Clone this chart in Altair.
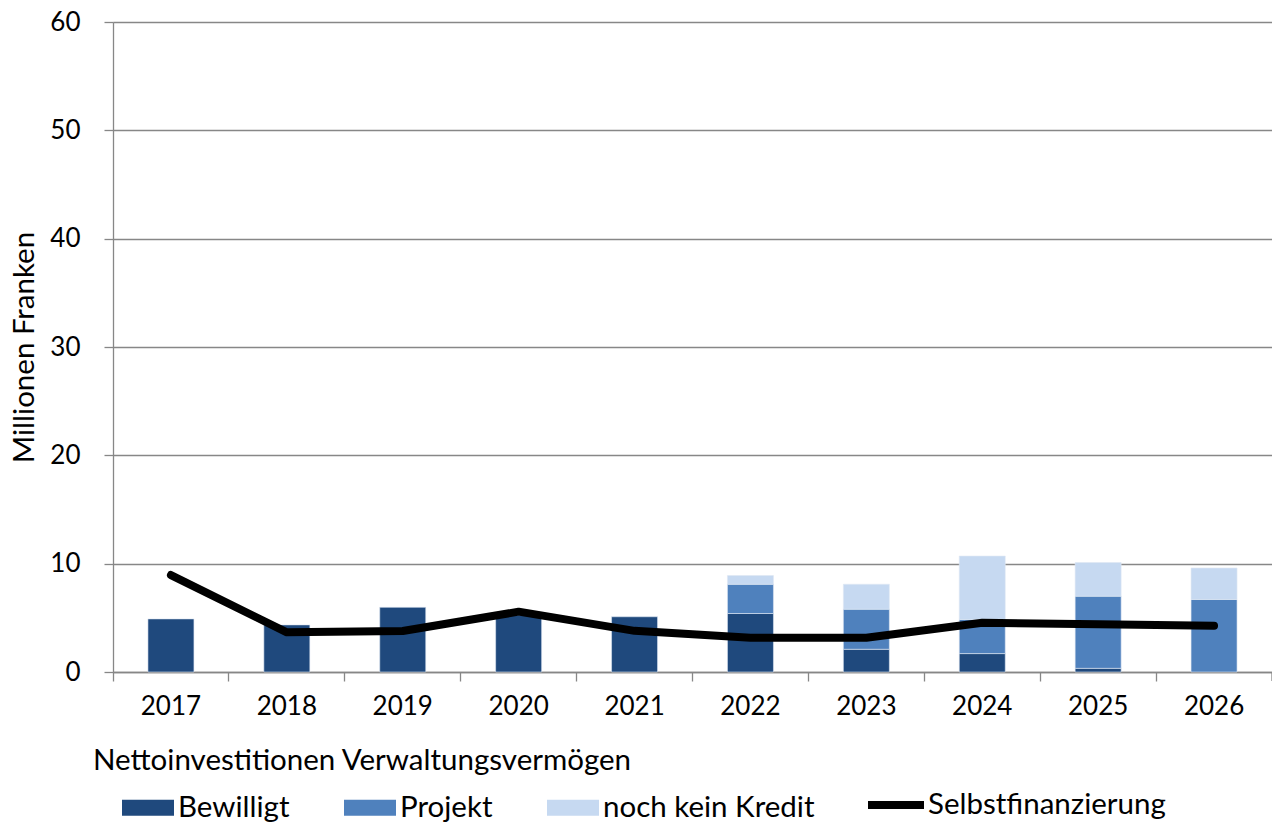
import altair as alt
import pandas as pd

years = ["2017", "2018", "2019", "2020", "2021", "2022", "2023", "2024", "2025", "2026"]
bewilligt = [4.9, 4.35, 5.97, 5.26, 5.1, 5.4, 2.1, 1.7, 0.34, 0.0]
projekt = [0, 0, 0, 0, 0, 2.7, 3.7, 3.15, 6.66, 6.7]
kein_kredit = [0, 0, 0, 0, 0, 0.8, 2.3, 5.85, 3.1, 2.9]
selbst = [8.95, 3.66, 3.78, 5.57, 3.8, 3.17, 3.17, 4.55, 4.4, 4.27]

series_names = ["Bewilligt", "Projekt", "noch kein Kredit"]
series_colors = ["#1F497D", "#4F81BD", "#C6D9F1"]
line_name = "Selbstfinanzierung"

rows = []
for i, y in enumerate(years):
    for k, (name, vals) in enumerate(zip(series_names, [bewilligt, projekt, kein_kredit])):
        rows.append({"Jahr": y, "Serie": name, "Wert": vals[i], "ord": k})
bars_df = pd.DataFrame(rows)
line_df = pd.DataFrame({"Jahr": years, "Wert": selbst, "Serie": [line_name] * len(years)})

FONT = "Lato"
TXT = 29.5
W, H = 1159, 650
GRID = "#878787"

x_enc = alt.X(
    "Jahr:N",
    sort=years,
    title=None,
    scale=alt.Scale(paddingInner=0, paddingOuter=0),
    axis=alt.Axis(
        labelAngle=0,
        bandPosition=0,
        grid=False,
        ticks=True,
        tickSize=9,
        tickColor=GRID,
        domainColor=GRID,
        domainWidth=1.3,
        tickWidth=1.3,
        labelFontSize=26,
        labelFont=FONT,
        labelColor="black",
        labelPadding=12,
    ),
)

y_scale = alt.Scale(domain=[0, 60], nice=False)
y_axis = alt.Axis(
    values=[0, 10, 20, 30, 40, 50, 60],
    title="Millionen Franken",
    titleFont=FONT,
    titleFontSize=TXT,
    titleFontWeight="normal",
    titleColor="black",
    titlePadding=10,
    labelFont=FONT,
    labelFontSize=26,
    labelColor="black",
    labelPadding=24,
    tickSize=9,
    tickColor=GRID,
    tickWidth=1.3,
    domainColor=GRID,
    domainWidth=1.3,
    grid=True,
    gridColor=GRID,
    gridWidth=1.3,
)

bars = alt.Chart(bars_df).transform_filter("datum.Wert > 0").mark_bar(
    size=46, stroke="#dfe8f3", strokeWidth=0.6
).encode(
    x=x_enc,
    y=alt.Y("sum(Wert):Q", stack="zero", scale=y_scale, axis=y_axis),
    fill=alt.Fill(
        "Serie:N",
        scale=alt.Scale(domain=series_names, range=series_colors),
        legend=alt.Legend(
            title="Nettoinvestitionen Verwaltungsvermögen",
            titleFont=FONT,
            titleFontSize=TXT,
            titleFontWeight="normal",
            titleColor="black",
            titlePadding=5,
            titleLimit=900,
            orient="none",
            legendX=-20,
            legendY=725,
            direction="horizontal",
            columnPadding=25,
            labelFont=FONT,
            labelFontSize=TXT,
            labelColor="black",
            symbolOffset=29,
            labelOffset=4,
            labelLimit=400,
            symbolType="M-1,-0.31H1V0.31H-1Z",
            symbolSize=2704,
            symbolStrokeWidth=0,
            symbolOpacity=1,
            padding=0,
        ),
    ),
    order=alt.Order("ord:Q", sort="ascending"),
)

line = alt.Chart(line_df).mark_line(
    strokeWidth=8, strokeCap="round", strokeJoin="round"
).encode(
    x=alt.X("Jahr:N", sort=years),
    y=alt.Y("Wert:Q", scale=y_scale),
    stroke=alt.Stroke(
        "Serie:N",
        scale=alt.Scale(domain=[line_name], range=["black"]),
        legend=alt.Legend(
            title=None,
            orient="none",
            legendX=751,
            legendY=751,
            labelFont=FONT,
            labelFontSize=TXT,
            labelColor="black",
            labelOffset=0,
            labelLimit=400,
            symbolType="stroke",
            symbolSize=3136,
            symbolStrokeWidth=8,
            padding=0,
        ),
    ),
)

end_tick = alt.Chart(pd.DataFrame({"t": [0]})).mark_rule(color=GRID, strokeWidth=1.3).encode(
    x=alt.value(W), y=alt.value(H), y2=alt.value(H + 9)
)

chart = (
    alt.layer(bars, line, end_tick)
    .resolve_scale(fill="independent", stroke="independent")
    .properties(
        width=W,
        height=H,
        autosize=alt.AutoSizeParams(type="none"),
        padding={"left": 105, "top": 14, "right": 0, "bottom": 151},
    )
    .configure_view(stroke=None)
    .configure(font=FONT)
)

chart.save("out.html", embed_options={"renderer": "svg", "actions": False})
